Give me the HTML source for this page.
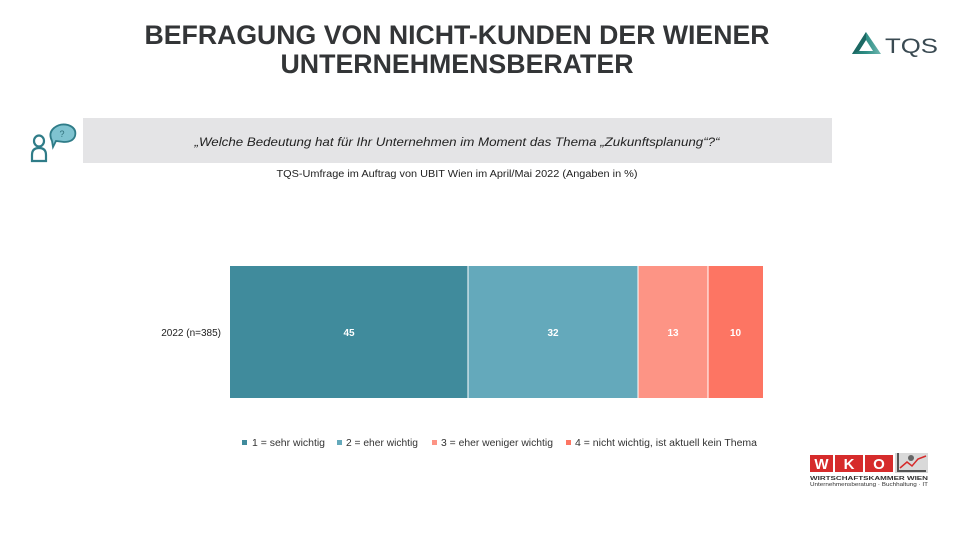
<!DOCTYPE html>
<html><head><meta charset="utf-8"><style>
html,body{margin:0;padding:0;background:#fff;}
svg{display:block;}
text{font-family:"Liberation Sans",Arial,sans-serif;}
</style></head><body>
<svg width="960" height="540" viewBox="0 0 960 540" xmlns="http://www.w3.org/2000/svg">
<rect width="960" height="540" fill="#fff"/>
<!-- Title -->
<text x="457" y="44" text-anchor="middle" font-size="27" font-weight="bold" fill="#333537" textLength="625" lengthAdjust="spacingAndGlyphs">BEFRAGUNG VON NICHT-KUNDEN DER WIENER</text>
<text x="457" y="73" text-anchor="middle" font-size="27" font-weight="bold" fill="#333537" textLength="353" lengthAdjust="spacingAndGlyphs">UNTERNEHMENSBERATER</text>

<!-- TQS logo -->
<defs>
<linearGradient id="tg" x1="0" y1="0" x2="1" y2="0">
<stop offset="0" stop-color="#1f6f6a"/><stop offset="0.5" stop-color="#2f8f86"/><stop offset="1" stop-color="#6fb7b0"/>
</linearGradient>
</defs>
<path d="M866 32 L852 54 L881 54 Z M866 40 L859 51 L873 51 Z" fill="url(#tg)" fill-rule="evenodd"/>
<path d="M866 32 L866 40 L859 51 L852 54 Z" fill="#1c6863"/>
<text x="885" y="53" font-size="21" fill="#3a4a52" textLength="53" lengthAdjust="spacingAndGlyphs">TQS</text>

<!-- Question icon -->
<g fill="none" stroke="#2f7c88" stroke-width="2.2">
<ellipse cx="39" cy="141" rx="5" ry="5.5"/>
<path d="M32 161 L32 155 Q32 148 39 148 Q46 148 46 155 L46 161 Z"/>
</g>
<path d="M52 141 Q48 133 54 128 Q60 123 68 125 Q77 128 75 136 Q73 142 64 142 L56 141 L53 147 Z" fill="#7fc3d0" stroke="#2f7c88" stroke-width="1.8"/>
<text x="62" y="137" font-size="9" fill="#2f6f7a" text-anchor="middle">?</text>

<!-- Question box -->
<rect x="83" y="118" width="749" height="45" fill="#e4e4e6"/>
<text x="457" y="146" text-anchor="middle" font-size="12" font-style="italic" fill="#222" textLength="525" lengthAdjust="spacingAndGlyphs">„Welche Bedeutung  hat für Ihr Unternehmen  im Moment  das Thema „Zukunftsplanung“?“</text>
<text x="457" y="177" text-anchor="middle" font-size="10" fill="#222" textLength="361" lengthAdjust="spacingAndGlyphs">TQS-Umfrage im  Auftrag von UBIT Wien im April/Mai 2022 (Angaben in %)</text>

<!-- Bars -->
<rect x="230" y="266" width="238" height="132" fill="#408b9c"/>
<rect x="468" y="266" width="170" height="132" fill="#64a9bb"/>
<rect x="638" y="266" width="70" height="132" fill="#fd9485"/>
<rect x="708" y="266" width="55" height="132" fill="#fd7563"/>
<line x1="468" y1="266" x2="468" y2="398" stroke="#fff" stroke-width="1"/>
<line x1="638" y1="266" x2="638" y2="398" stroke="#fff" stroke-width="1"/>
<line x1="708" y1="266" x2="708" y2="398" stroke="#fff" stroke-width="1"/>
<g font-size="10" font-weight="bold" fill="#fff" text-anchor="middle">
<text x="349" y="336">45</text>
<text x="553" y="336">32</text>
<text x="673" y="336">13</text>
<text x="735.5" y="336">10</text>
</g>
<text x="221" y="336" text-anchor="end" font-size="10" fill="#222">2022 (n=385)</text>

<!-- Legend -->
<g font-size="10" fill="#333">
<rect x="242" y="440" width="5" height="5" fill="#408b9c"/>
<text x="252" y="446" textLength="73" lengthAdjust="spacingAndGlyphs">1 = sehr wichtig</text>
<rect x="337" y="440" width="5" height="5" fill="#64a9bb"/>
<text x="346" y="446" textLength="72" lengthAdjust="spacingAndGlyphs">2 = eher wichtig</text>
<rect x="432" y="440" width="5" height="5" fill="#fd9485"/>
<text x="441" y="446" textLength="112" lengthAdjust="spacingAndGlyphs">3 = eher weniger wichtig</text>
<rect x="566" y="440" width="5" height="5" fill="#fd7563"/>
<text x="575" y="446" textLength="182" lengthAdjust="spacingAndGlyphs">4 = nicht wichtig, ist aktuell kein Thema</text>
</g>

<!-- WKO logo -->
<rect x="810" y="455" width="23" height="17" fill="#d62b2b"/>
<rect x="835" y="455" width="28" height="17" fill="#d62b2b"/>
<rect x="865" y="455" width="28" height="17" fill="#d62b2b"/>
<g font-size="15" font-weight="bold" fill="#fff" text-anchor="middle">
<text x="821.5" y="469">W</text>
<text x="849" y="469">K</text>
<text x="879" y="469">O</text>
</g>
<rect x="895" y="453" width="33" height="20" fill="#d9d9d9"/>
<path d="M898 453 L898 471 L926 471" fill="none" stroke="#555" stroke-width="2"/>
<circle cx="911" cy="458" r="3" fill="#666"/>
<path d="M900 468 L907 462 L912 466 L918 459 L926 456" fill="none" stroke="#d62b2b" stroke-width="1.5"/>
<text x="810" y="480" font-size="5.5" font-weight="bold" fill="#333" textLength="118" lengthAdjust="spacingAndGlyphs">WIRTSCHAFTSKAMMER WIEN</text>
<text x="810" y="486" font-size="5" fill="#333" textLength="118" lengthAdjust="spacingAndGlyphs">Unternehmensberatung · Buchhaltung · IT</text>
</svg>
</body></html>
